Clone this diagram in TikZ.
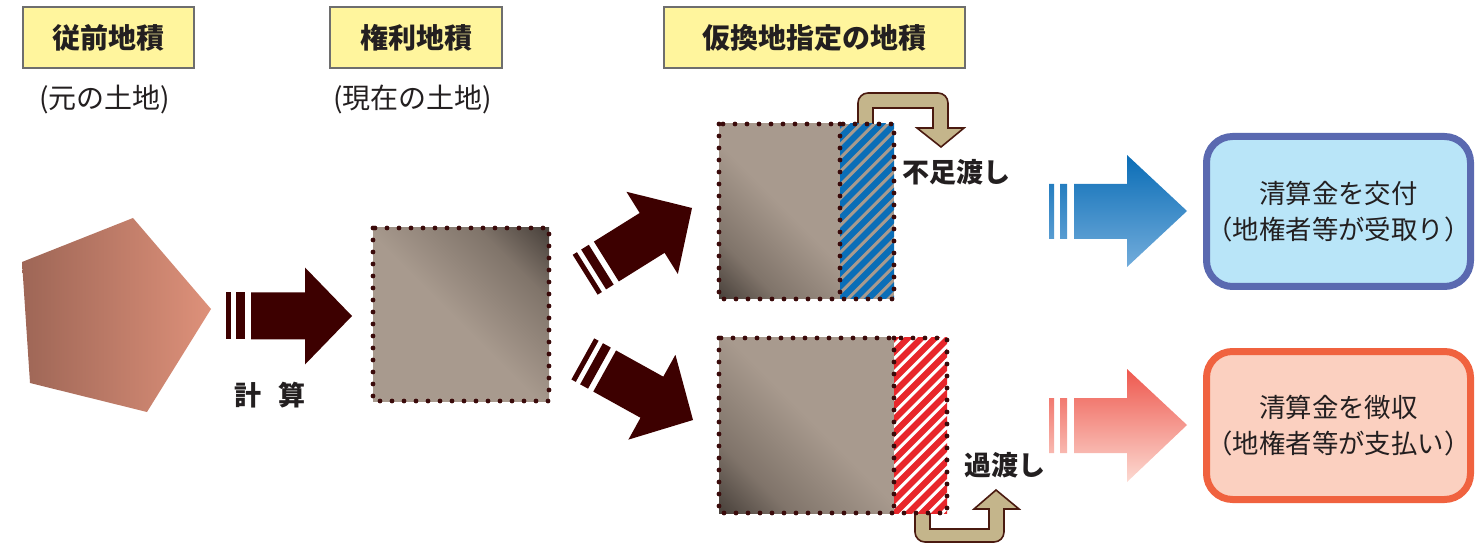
\documentclass[tikz,border=0pt]{standalone}
\usepackage{fontspec}
\newfontfamily\jp{Noto Sans CJK JP}
\definecolor{ylw}{HTML}{FFF59D}
\definecolor{ylwline}{HTML}{6E6E6E}
\definecolor{arrowc}{HTML}{3D0000}
\definecolor{tanfill}{HTML}{C4B58B}
\definecolor{tanline}{HTML}{4A1A10}
\definecolor{dotc}{HTML}{3A0A0A}
\definecolor{gl}{HTML}{A89A8E}
\definecolor{gm}{HTML}{80746A}
\definecolor{gd}{HTML}{4A423C}
\definecolor{pentL}{HTML}{9E6656}
\definecolor{pentR}{HTML}{DE917A}
\definecolor{hblue}{HTML}{0A6EB8}
\definecolor{hred}{HTML}{E8262B}
\definecolor{bAt}{HTML}{0A6DB6}
\definecolor{bAb}{HTML}{72ACDB}
\definecolor{rAt}{HTML}{EE584E}
\definecolor{rAb}{HTML}{FCDAD2}
\definecolor{bBoxD}{HTML}{5A69B0}
\definecolor{bBoxF}{HTML}{B9E5F8}
\definecolor{rBoxD}{HTML}{F0623F}
\definecolor{rBoxF}{HTML}{FBD0C0}
\definecolor{txt}{HTML}{231F20}
\pgfdeclarehorizontalshading{cornerdark}{100bp}{color(0bp)=(gd); color(15bp)=(gd); color(29bp)=(gm); color(52bp)=(gl); color(100bp)=(gl)}
\tikzset{
  titlebox/.style={draw=ylwline, fill=ylw, line width=0.7pt, inner sep=0pt,
    minimum height=30.5pt, text=txt, font=\jp\bfseries\fontsize{14pt}{16pt}\selectfont},
  sublbl/.style={text=txt, inner sep=0pt, font=\jp\fontsize{14pt}{16pt}\selectfont},
  boldlbl/.style={text=txt, inner sep=0pt, font=\jp\bfseries\fontsize{13.5pt}{16pt}\selectfont},
  resbox/.style={line width=3.5pt, rounded corners=13pt, inner sep=0pt, align=center,
    text=txt, font=\jp\fontsize{13.2pt}{18pt}\selectfont},
  dotb/.style={draw=dotc, line width=2.4pt, line cap=round, dash pattern=on 0pt off 6pt},
  tanarrow/.style={fill=tanfill, draw=tanline, line width=0.8pt, line join=miter},
  hatchline/.style={line width=3.1pt},
  darr/.pic={
    \fill[arrowc] (0,0) -- (-47,-48.5) -- (-47,-23.5) -- (-101,-23.5) -- (-101,23.5)
      -- (-47,23.5) -- (-47,48.5) -- cycle;
    \fill[arrowc] (-126,-23.5) rectangle (-121,23.5);
    \fill[arrowc] (-116,-23.5) rectangle (-107,23.5);
  }
}
\begin{document}
\begin{tikzpicture}[x=0.5pt,y=-0.5pt]
\useasboundingbox (0,0) rectangle (1478,545);
% titles
\node[titlebox, minimum width=85.5pt] (t1) at (108.5,37.5) {従前地積};
\node[titlebox, minimum width=86pt] (t2) at (416,37.5) {権利地積};
\node[titlebox, minimum width=150.5pt] (t3) at (814.5,37.5) {仮換地指定の地積};
\node[sublbl] (s1) at (105,99) {(元の土地)};
\node[sublbl] (s2) at (412.5,99) {(現在の土地)};
% pentagon
\shade[left color=pentL, right color=pentR] (133,218) -- (211,309) -- (147,412) -- (30,383) -- (22,262) -- cycle;
% arrow 1
\pic at (352,316) {darr};
\node[boldlbl] (calc) at (270,395) {計\hspace{0.6em}算};
% middle square (dark at top right)
\shade[shading=cornerdark, shading angle=225] (373,228) rectangle (549,401);
\draw[dotb] (373,228) rectangle (549,401);
% diagonal arrows
\pic[rotate=32] at (692,208) {darr};
\pic[rotate=-29] at (693,420) {darr};
% tan arrows (behind squares)
\draw[tanarrow] (873,126) -- (858,126) [rounded corners=5pt] -- (858,93) -- (948,93) [sharp corners] -- (948,128) -- (964,128) -- (941,147) -- (917,128) -- (933,128) -- (933,108) -- (873,108) -- cycle;
\draw[tanarrow] (930,511) -- (915,511) [rounded corners=5pt] -- (915,542) -- (1004,542) [sharp corners] -- (1004,509) -- (1019,509) -- (996,490) -- (974,509) -- (989,509) -- (989,529) -- (930,529) -- cycle;
% top composite (dark at bottom left)
\shade[shading=cornerdark, shading angle=45] (719,124) rectangle (840,299);
\begin{scope}
  \clip (840,124) rectangle (894,299);
  \fill[gl] (840,124) rectangle (894,299);
  \foreach \i in {0,...,24} {
    \draw[hblue, hatchline] (800,124+\i*13.5) -- ++(250,-250);
  }
\end{scope}
\draw[dotb] (719,124) rectangle (894,299);
\draw[dotb] (840,124) -- (840,299);
% bottom composite
\shade[shading=cornerdark, shading angle=45] (719,338) rectangle (894,513);
\begin{scope}
  \clip (894,338) rectangle (947,513);
  \fill[white] (894,338) rectangle (947,513);
  \foreach \i in {0,...,24} {
    \draw[hred, hatchline] (854,338+\i*13.5) -- ++(250,-250);
  }
\end{scope}
\draw[dotb] (719,338) rectangle (947,513);
\draw[dotb] (894,338) -- (894,513);
\node[boldlbl] (fusoku) at (956,172) {不足渡し};
\node[boldlbl] (kawatashi) at (1005,465) {過渡し};
% blue arrow
\shade[top color=bAt, bottom color=bAb] (1187,211) -- (1127,155) -- (1127,184) -- (1074,184) -- (1074,239) -- (1127,239) -- (1127,267) -- cycle
  (1049,184) rectangle (1054,239) (1060,184) rectangle (1067,239);
% red arrow
\shade[top color=rAt, bottom color=rAb] (1187,425) -- (1127,369) -- (1127,398) -- (1074,398) -- (1074,453) -- (1127,453) -- (1127,482) -- cycle
  (1049,398) rectangle (1054,453) (1060,398) rectangle (1067,453);
% result boxes
\node[resbox, draw=bBoxD, fill=bBoxF, minimum width=128pt, minimum height=75pt] (pay) at (1338.5,211.5) {清算金を交付\\（地権者等が受取り）};
\node[resbox, draw=rBoxD, fill=rBoxF, minimum width=128pt, minimum height=74pt] (collect) at (1338.5,425.5) {清算金を徴収\\（地権者等が支払い）};
\end{tikzpicture}
\end{document}
